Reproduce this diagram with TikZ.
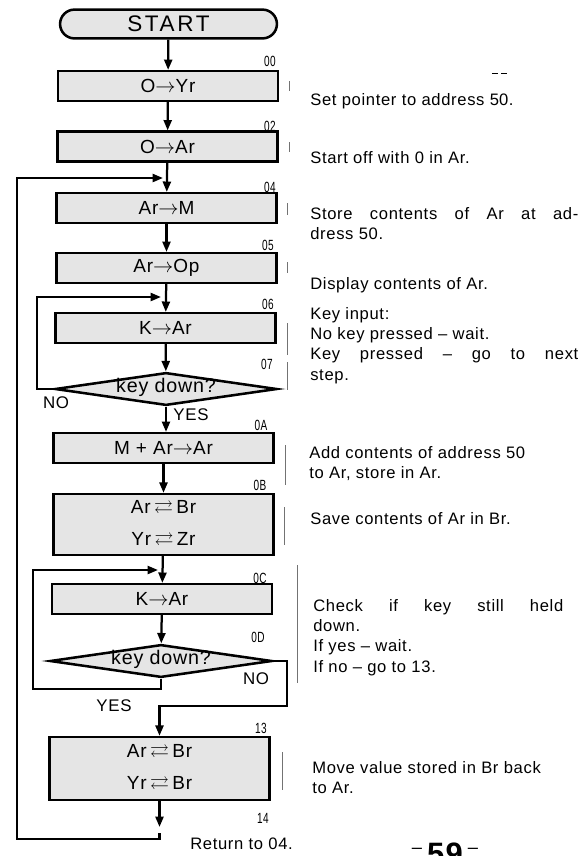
\documentclass[tikz,border=0pt]{standalone}
\usepackage{amssymb}
\usepackage{fontspec}
\setmainfont{Liberation Sans}[LetterSpace=4.0]
\usetikzlibrary{shapes.geometric,arrows.meta,positioning}

\newcommand{\tor}{$\rightarrow$}
\newcommand{\xch}{$\,\rightleftarrows\,$}
\newcommand{\addrno}[1]{\scalebox{0.68}[1]{#1}}
\newcommand{\dashmark}[1]{\rlap{\kern0.12em\raisebox{0.78cm}{\rule{0.36em}{0.5pt}}}#1}
\newcommand{\asktext}[1]{\smash{\raisebox{-2.5pt}{#1}}}

\begin{document}
\begin{tikzpicture}[x=0.025cm, y=-0.025cm,
    stepbox/.style={draw, line width=1.8pt, fill=black!10, minimum width=5.5cm, minimum height=0.74cm, inner sep=1pt, font=\fontsize{13.5}{15}\selectfont},
    testbox/.style={diamond, aspect=7, draw, line width=1.8pt, fill=black!10, minimum width=5.55cm, minimum height=0.82cm, inner sep=0pt, font=\fontsize{14}{16}\selectfont},
    flow/.style={line width=1.6pt, -{Triangle[length=0.26cm,width=0.2cm]}},
    line/.style={line width=1.6pt},
    addr/.style={inner sep=0pt, font=\fontsize{10.5}{12}\selectfont},
    answer/.style={inner sep=0pt, font=\fontsize{12}{14}\selectfont},
    note/.style={anchor=base west, inner sep=0pt, text width=6.7cm, align=justify, font=\fontsize{11.8}{14.5}\selectfont},
    brace/.style={line width=0.4pt, black!55}]
    \useasboundingbox (0,0) rectangle (582,856);

    % Flow chart
    \node[draw, line width=1.8pt, fill=black!10, rounded corners=0.36cm, minimum width=5.42cm, minimum height=0.72cm, font=\fontsize{16}{18}\selectfont\addfontfeatures{LetterSpace=12}] (start) at (168.5,24) {START};
    \node[stepbox] (s00) at (168,86) {O\tor Yr};
    \node[stepbox] (s02) at (167.5,146.5) {O\tor Ar};
    \node[stepbox] (s04) at (166.5,208) {Ar\tor M};
    \node[stepbox] (s05) at (166.5,268) {Ar\tor Op};
    \node[stepbox] (s06) at (165.5,328) {K\tor Ar};
    \node[testbox] (t07) at (166,389) {\asktext{key down?}};
    \node[stepbox] (s0A) at (163.5,448) {M + Ar\tor Ar};
    \node[stepbox, minimum height=1.52cm, align=center] (s0B) at (163.5,524.5) {Ar\xch Br\\[8pt]Yr\xch Zr};
    \node[stepbox] (s0C) at (162,599) {K\tor Ar};
    \node[testbox] (t0D) at (161,661) {\asktext{key down?}};
    \node[stepbox, minimum height=1.57cm, align=center] (s13) at (159.5,768.5) {Ar\xch Br\\[8pt]Yr\xch Br};

    % Addresses
    \node[addr] (a00) at (270,61) {\addrno{00}};
    \node[addr] (a02) at (270,126) {\addrno{02}};
    \node[addr] (a04) at (270,187) {\addrno{04}};
    \node[addr] (a05) at (268,245) {\addrno{05}};
    \node[addr] (a06) at (268,304) {\addrno{06}};
    \node[addr] (a07) at (267,364) {\addrno{07}};
    \node[addr] (a0A) at (261,425) {\addrno{0A}};
    \node[addr] (a0B) at (260,485) {\addrno{0B}};
    \node[addr] (a0C) at (260,578) {\addrno{0C}};
    \node[addr] (a0D) at (258,637) {\addrno{0D}};
    \node[addr] (a13) at (261,728) {\addrno{13}};
    \node[addr] (a14) at (263,818) {\addrno{14}};

    % Loop points
    \coordinate (in04) at (163,178);
    \coordinate (in06) at (161,297);
    \coordinate (in0C) at (158,570);
    \coordinate (l07) at (37,389);
    \coordinate (l0D) at (33,689);
    \coordinate (r0D) at (287,706);
    \coordinate (ret) at (159.5,827);
    \coordinate (back) at (159.5,833);
    \coordinate (out) at (17,839);

    % Connectors
    \draw[flow] (start) -- (s00);
    \draw[flow] (s00) -- (s02);
    \draw[flow] (s02) -- (s04);
    \draw[flow] (s04) -- (s05);
    \draw[flow] (s05) -- (s06);
    \draw[flow] (s06) -- (t07);
    \draw[flow] (t07.south) -- (t07.south |- s0A.north);
    \draw[flow] (s0A) -- (s0B);
    \draw[flow] (s0B) -- (s0C);
    \draw[flow] (s0C) -- (t0D);
    \draw[flow] (t07.west) -- (l07) |- (in06);
    \draw[flow] (t0D.south) |- (l0D) |- (in0C);
    \draw[flow] (t0D.east) -| (r0D) -| (s13.north);
    \draw[flow] (s13) -- (ret);
    \draw[flow] (back) |- (out) |- (in04);

    \node[answer] (no07) at (56,403) {NO};
    \node[answer] (yes07) at (191,415) {YES};
    \node[answer] (no0D) at (256,679) {NO};
    \node[answer] (yes0D) at (114,706) {YES};

    % Remarks
    \draw[brace] (289,81) -- (289,91);
    \draw[brace] (289,142) -- (289,152);
    \draw[brace] (287,203) -- (287,215);
    \draw[brace] (287,262) -- (287,273);
    \draw[brace] (287,323) -- (287,355) (287,362) -- (287,390);
    \draw[brace] (285,445) -- (285,485) (284,507) -- (284,545);
    \draw[brace] (297,565) -- (297,683);
    \draw[brace] (282,752) -- (282,790);

    \node[note] (n00) at (310,105) {Set pointer to address \dashmark{5}\dashmark{0}.};
    \node[note] (n02) at (310,163) {Start off with 0 in Ar.};
    \node[note] (n04) at (310,219) {Store contents of Ar at ad-\linebreak dress 50.};
    \node[note] (n05) at (310,289) {Display contents of Ar.};
    \node[note] (n06) at (310,319) {Key input:\\No key pressed -- wait.\\Key pressed -- go to next\linebreak step.};
    \node[note] (n0A) at (309,458) {Add contents of address 50\\to Ar, store in Ar.};
    \node[note] (n0B) at (310,524) {Save contents of Ar in Br.};
    \node[note, text width=6.25cm] (n0C) at (313,611) {Check if key still held\linebreak down.\\If yes -- wait.\\If no -- go to 13.};
    \node[note] (n13) at (312,773) {Move value stored in Br back\\to Ar.};
    \node[note, text width=3cm] (n14) at (190,849) {Return to 04.};
    \node[anchor=north, inner sep=0pt, font=\fontsize{22}{24}\selectfont\bfseries] (page) at (445,843) {\raisebox{8pt}{\fontsize{13}{14}\selectfont\mdseries--}\,59\,\raisebox{8pt}{\fontsize{13}{14}\selectfont\mdseries--}};
\end{tikzpicture}
\end{document}
